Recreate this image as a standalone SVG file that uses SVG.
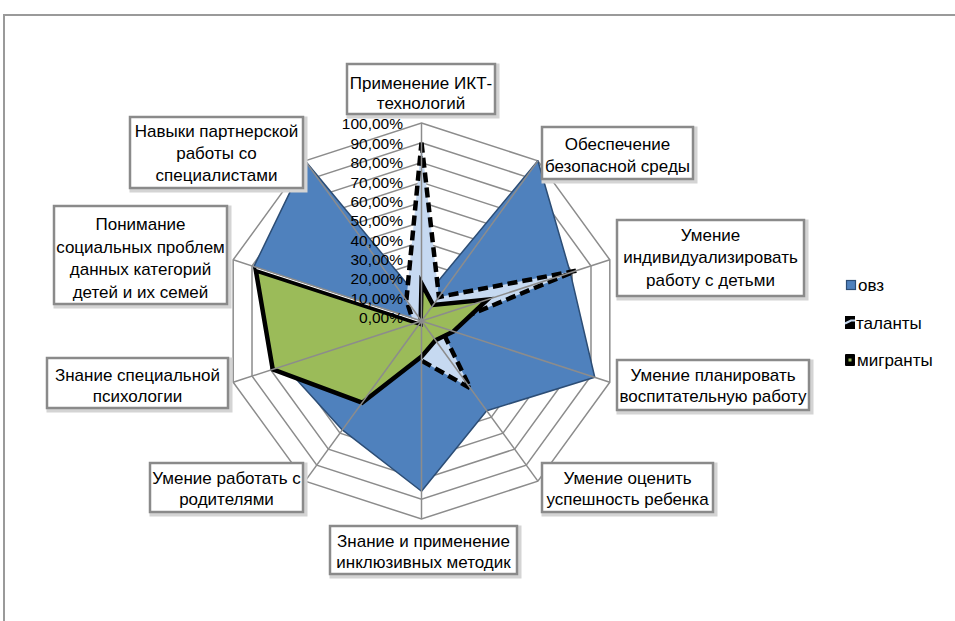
<svg xmlns="http://www.w3.org/2000/svg" width="955" height="621" viewBox="0 0 955 621">
<style>
.frame{fill:none;stroke:#9a9a9a;stroke-width:2}
.ring{fill:none;stroke:#8c8c8c;stroke-width:1.5}
.spoke{stroke:#8c8c8c;stroke-width:1.5}
.ovz{fill:#4F81BD;stroke:#2c4d75;stroke-width:1.5;stroke-linejoin:round}
.tal{fill:#C6D9F1;stroke:#000;stroke-width:4.5;stroke-dasharray:10 5}
.mig{fill:#9BBB59;stroke:#000;stroke-width:4.5;stroke-linejoin:miter}
.tick{font-family:"Liberation Sans",Arial,sans-serif;font-size:15.5px;fill:#000;text-anchor:end}
.lbl{font-family:"Liberation Sans",Arial,sans-serif;font-size:17px;fill:#000;text-anchor:middle}
.leg{font-family:"Liberation Sans",Arial,sans-serif;font-size:17px;fill:#000}
.box{fill:#fff;stroke:#8a8a8a;stroke-width:2.5}
.shadow{fill:none;stroke:#d4d4d4;stroke-width:5}
</style>
<rect width="955" height="621" fill="#fff"/>
<path class="frame" d="M4,621 V15 H955"/>
<g id="grid">
<polygon class="ring" points="421.5,301.2 433.14,304.98 440.33,314.88 440.33,327.12 433.14,337.02 421.5,340.8 409.86,337.02 402.67,327.12 402.67,314.88 409.86,304.98"/>
<polygon class="ring" points="421.5,281.4 444.78,288.96 459.16,308.76 459.16,333.24 444.78,353.04 421.5,360.6 398.22,353.04 383.84,333.24 383.84,308.76 398.22,288.96"/>
<polygon class="ring" points="421.5,261.6 456.41,272.95 478,302.65 478,339.35 456.41,369.05 421.5,380.4 386.59,369.05 365,339.35 365,302.65 386.59,272.95"/>
<polygon class="ring" points="421.5,241.8 468.05,256.93 496.83,296.53 496.83,345.47 468.05,385.07 421.5,400.2 374.95,385.07 346.17,345.47 346.17,296.53 374.95,256.93"/>
<polygon class="ring" points="421.5,222 479.69,240.91 515.66,290.41 515.66,351.59 479.69,401.09 421.5,420 363.31,401.09 327.34,351.59 327.34,290.41 363.31,240.91"/>
<polygon class="ring" points="421.5,202.2 491.33,224.89 534.49,284.29 534.49,357.71 491.33,417.11 421.5,439.8 351.67,417.11 308.51,357.71 308.51,284.29 351.67,224.89"/>
<polygon class="ring" points="421.5,182.4 502.97,208.87 553.32,278.17 553.32,363.83 502.97,433.13 421.5,459.6 340.03,433.13 289.68,363.83 289.68,278.17 340.03,208.87"/>
<polygon class="ring" points="421.5,162.6 514.6,192.86 572.16,272.06 572.16,369.94 514.6,449.14 421.5,479.4 328.4,449.14 270.84,369.94 270.84,272.06 328.4,192.86"/>
<polygon class="ring" points="421.5,142.8 526.24,176.84 590.99,265.94 590.99,376.06 526.24,465.16 421.5,499.2 316.76,465.16 252.01,376.06 252.01,265.94 316.76,176.84"/>
<polygon class="ring" points="421.5,123 537.88,160.82 609.82,259.82 609.82,382.18 537.88,481.18 421.5,519 305.12,481.18 233.18,382.18 233.18,259.82 305.12,160.82"/>
</g>
<g id="series-ovz">
<polygon class="ovz" points="421.5,301.2 537.88,160.82 570.27,272.67 594.75,377.29 486.67,410.7 421.5,491.28 342.36,429.92 284.03,365.66 253.9,266.55 305.12,160.82"/>
</g>
<g id="series-talanty">
<polygon class="tal" points="421.5,142.8 438.96,296.97 575.92,270.83 440.33,327.12 470.38,388.28 421.5,360.6 409.86,337.02 412.08,324.06 412.08,317.94 406.37,300.18"/>
</g>
<g id="series-migranty">
<polygon class="mig" points="421.5,283.38 433.14,304.98 487.41,299.59 453.51,331.4 435.47,340.22 421.5,356.64 362.15,402.69 272.73,369.33 255.8,270.3 420.6,323.85"/>
<line x1="256.5" y1="268.4" x2="420" y2="321.6" stroke="#fff" stroke-width="1.3"/>
</g>
<g id="connectors">
<line class="spoke" x1="421.5" y1="321" x2="421.5" y2="123"/>
<line class="spoke" x1="421.5" y1="321" x2="537.88" y2="160.82"/>
<line class="spoke" x1="421.5" y1="321" x2="609.82" y2="259.82"/>
<line class="spoke" x1="421.5" y1="321" x2="609.82" y2="382.18"/>
<line class="spoke" x1="421.5" y1="321" x2="537.88" y2="481.18"/>
<line class="spoke" x1="421.5" y1="321" x2="421.5" y2="519"/>
<line class="spoke" x1="421.5" y1="321" x2="305.12" y2="481.18"/>
<line class="spoke" x1="421.5" y1="321" x2="233.18" y2="382.18"/>
<line class="spoke" x1="421.5" y1="321" x2="233.18" y2="259.82"/>
<line class="spoke" x1="421.5" y1="321" x2="305.12" y2="160.82"/>
</g>
<g id="ticks">
<text class="tick" x="403" y="129">100,00%</text>
<text class="tick" x="403" y="148.5">90,00%</text>
<text class="tick" x="403" y="168">80,00%</text>
<text class="tick" x="403" y="187.5">70,00%</text>
<text class="tick" x="403" y="206.5">60,00%</text>
<text class="tick" x="403" y="226">50,00%</text>
<text class="tick" x="403" y="245.5">40,00%</text>
<text class="tick" x="403" y="264.5">30,00%</text>
<text class="tick" x="403" y="284">20,00%</text>
<text class="tick" x="403" y="303.5">10,00%</text>
<text class="tick" x="403" y="322.5">0,00%</text>
</g>
<g id="label-ikt">
<rect class="shadow" x="349" y="66" width="148" height="50"/>
<rect class="box" x="347" y="64" width="148" height="50"/>
<text class="lbl" x="421" y="89">Применение ИКТ-</text>
<text class="lbl" x="421" y="108.5">технологий</text>
</g>
<g id="label-bezopas">
<rect class="shadow" x="544" y="129" width="151" height="52"/>
<rect class="box" x="542" y="127" width="151" height="52"/>
<text class="lbl" x="617.5" y="149.5">Обеспечение</text>
<text class="lbl" x="617.5" y="171.5">безопасной среды</text>
</g>
<g id="label-individ">
<rect class="shadow" x="619" y="222" width="187" height="76"/>
<rect class="box" x="617" y="220" width="187" height="76"/>
<text class="lbl" x="710.5" y="241">Умение</text>
<text class="lbl" x="710.5" y="263">индивидуализировать</text>
<text class="lbl" x="710.5" y="285.5">работу с  детьми</text>
</g>
<g id="label-plan">
<rect class="shadow" x="619" y="362" width="192" height="50"/>
<rect class="box" x="617" y="360" width="192" height="50"/>
<text class="lbl" x="713" y="380.5">Умение планировать</text>
<text class="lbl" x="713" y="402">воспитательную работу</text>
</g>
<g id="label-ocenit">
<rect class="shadow" x="544" y="465" width="171" height="49"/>
<rect class="box" x="542" y="463" width="171" height="49"/>
<text class="lbl" x="627.5" y="483.5">Умение оценить</text>
<text class="lbl" x="627.5" y="504.5">успешность ребенка</text>
</g>
<g id="label-inkl">
<rect class="shadow" x="332" y="528" width="187" height="48"/>
<rect class="box" x="330" y="526" width="187" height="48"/>
<text class="lbl" x="423.5" y="546.5">Знание и применение</text>
<text class="lbl" x="423.5" y="568">инклюзивных методик</text>
</g>
<g id="label-roditeli">
<rect class="shadow" x="152" y="465" width="153" height="49"/>
<rect class="box" x="150" y="463" width="153" height="49"/>
<text class="lbl" x="226.5" y="483.5">Умение работать с</text>
<text class="lbl" x="226.5" y="504.5">родителями</text>
</g>
<g id="label-psih">
<rect class="shadow" x="49" y="360" width="181" height="50"/>
<rect class="box" x="47" y="358" width="181" height="50"/>
<text class="lbl" x="137.5" y="380.5">Знание специальной</text>
<text class="lbl" x="137.5" y="402">психологии</text>
</g>
<g id="label-ponim">
<rect class="shadow" x="56" y="208" width="173" height="98"/>
<rect class="box" x="54" y="206" width="173" height="98"/>
<text class="lbl" x="140.5" y="230">Понимание</text>
<text class="lbl" x="140.5" y="252.5">социальных проблем</text>
<text class="lbl" x="140.5" y="275">данных категорий</text>
<text class="lbl" x="140.5" y="297.5">детей и их семей</text>
</g>
<g id="label-navyki">
<rect class="shadow" x="132" y="119" width="173" height="71"/>
<rect class="box" x="130" y="117" width="173" height="71"/>
<text class="lbl" x="216.5" y="137">Навыки партнерской</text>
<text class="lbl" x="216.5" y="159">работы со</text>
<text class="lbl" x="216.5" y="181">специалистами</text>
</g>
<g id="legend">
<rect x="846.5" y="280.5" width="9" height="9" fill="#4F81BD" stroke="#2c4d75" stroke-width="1.2"/>
<text class="leg" x="858" y="291">овз</text>
<rect x="845" y="316" width="10" height="13" fill="#000"/>
<path d="M845,323.5 L851,320.5 L855,320.5" fill="none" stroke="#C6D9F1" stroke-width="2"/>
<text class="leg" x="856" y="329">таланты</text>
<rect x="845" y="354" width="10" height="12" fill="#000" rx="1"/>
<rect x="848.5" y="358.5" width="3" height="3" fill="#9BBB59"/>
<text class="leg" x="857" y="366">мигранты</text>
</g>
</svg>
